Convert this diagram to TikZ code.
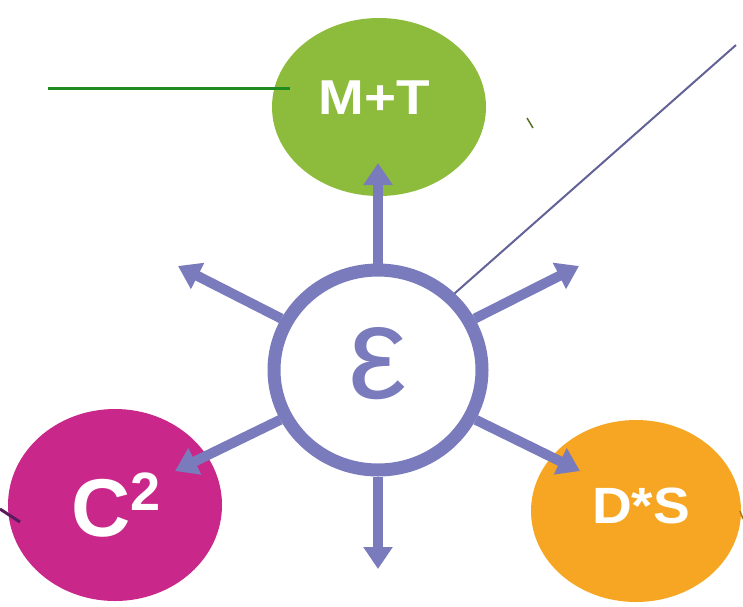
\documentclass[tikz,border=0pt]{standalone}
\usepackage{fontspec}
\setmainfont{Liberation Sans}
\usetikzlibrary{arrows.meta,shapes.geometric}
\definecolor{pgreen}{HTML}{8DBC3C}
\definecolor{pmag}{HTML}{C9288A}
\definecolor{porange}{HTML}{F6A623}
\definecolor{pblue}{HTML}{7A7BBC}
\definecolor{dgreen}{HTML}{1F8A1F}
\definecolor{dpurple}{HTML}{5A1A5E}
\tikzset{
  blob/.style={ellipse, draw=none, inner sep=0pt},
  lbl/.style={inner sep=0pt, text=white, font=\bfseries},
  spoke/.style={draw=pblue, line width=10pt, -{Triangle[width=28pt,length=22pt]}}
}
\begin{document}
\begin{tikzpicture}[x=1pt,y=-1pt]
\useasboundingbox (0,0) rectangle (743,606);
% outer nodes
\node[blob, fill=pgreen, minimum width=214pt, minimum height=178pt] (mt) at (379,107) {};
\node[blob, fill=pmag, minimum width=214pt, minimum height=192pt] (c2) at (115,505) {};
\node[blob, fill=porange, minimum width=210pt, minimum height=182pt] (ds) at (636,511) {};
\node[lbl, font=\fontsize{49}{49}\bfseries] (mtl) at (374,98) {\scalebox{1.12}[1]{M+T}};
\node[lbl, font=\fontsize{82}{82}\bfseries] (c2l) at (116,505) {C\raisebox{26pt}{\fontsize{54}{54}\selectfont 2}};
\node[lbl, font=\fontsize{51}{51}\bfseries] (dsl) at (641,506) {\scalebox{1.08}[1]{D*S}};
% center ring
\node[ellipse, draw=pblue, line width=13pt, fill=white, minimum width=208pt, minimum height=200pt, inner sep=0pt] (eps) at (378,370) {};
\node[inner sep=0pt, text=pblue, font=\fontsize{132}{132}\selectfont] (epsl) at (378,364) {ε};
% spokes
\coordinate (tN) at (378,163);
\coordinate (tNW) at (178,266);
\coordinate (tNE) at (579,266);
\coordinate (tSW) at (175,471);
\coordinate (tSE) at (580,471);
\coordinate (tS) at (378,569);
\draw[spoke] (eps.north) -- (tN);
\draw[spoke] (eps.152) -- (tNW);
\draw[spoke] (eps.28) -- (tNE);
\draw[spoke] (eps.207) -- (tSW);
\draw[spoke] (eps.333) -- (tSE);
\draw[spoke] (eps.south) -- (tS);
% thin lines
\coordinate (g1) at (48,88);
\coordinate (d1) at (736,45);
\draw[dgreen, line width=3pt] (g1) -- (mt.west |- g1) -- ++(18,0);
\draw[pblue!80!black, line width=2pt] (eps.45) -- (d1);
\coordinate (k1) at (527,118);
\coordinate (k2) at (533,128);
\draw[pgreen!60!black, line width=1.5pt] (k1) -- (k2);
\coordinate (m1) at (0,509);
\coordinate (m2) at (20,522);
\draw[dpurple, line width=3pt] (m1) -- (m2);
\coordinate (o1) at (740,511);
\coordinate (o2) at (743,519);
\draw[porange!70!black, line width=1.5pt] (o1) -- (o2);
\end{tikzpicture}
\end{document}
